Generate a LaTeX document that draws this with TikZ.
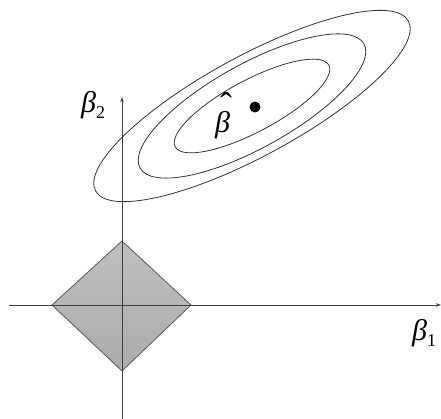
\documentclass[tikz,border=0pt]{standalone}
\usepackage{fontspec}
\setmainfont{Liberation Serif}
\usetikzlibrary{arrows.meta}
\tikzset{
  axisline/.style={draw=black!75, line width=0.8pt, -{Stealth[length=5pt,width=3.5pt]}},
  contour/.style={draw=black!80, line width=0.8pt},
  lbl/.style={inner sep=0pt, font=\fontsize{30}{34}\selectfont\itshape},
}
\newcommand{\hatb}{\makebox[0pt][l]{\hspace{5pt}\raisebox{15pt}{\fontsize{36}{36}\selectfont\upshape ˆ}}β}
\begin{document}
\begin{tikzpicture}[x=1pt,y=1pt]
\useasboundingbox (0,0) rectangle (441,419);
% diamond
\path[top color=black!25, bottom color=black!33, draw=black!65, line width=0.8pt]
  (122,178) coordinate (dt) -- (191,114) coordinate (dr) -- (122,48) coordinate (db) -- (52,114) coordinate (dl) -- cycle;
% axes
\coordinate (xs) at (9,114);
\coordinate (xe) at (441,114);
\coordinate (ys) at (122,0);
\coordinate (ye) at (122,322);
\draw[axisline] (xs) -- (xe);
\draw[axisline] (ys) -- (ye);
% contours
\coordinate (c) at (252,313);
\draw[contour, rotate around={28.5:(c)}] (c) ellipse (178 and 50);
\draw[contour, rotate around={29:(c)}] (c) ellipse (128 and 42);
\draw[contour, rotate around={28:(c)}] (c) ellipse (87 and 26);
% estimate
\fill (255,312) circle (5.5);
\node[lbl, anchor=base west] (bh) at (215,286) {\hatb};
\node[lbl, anchor=base west] (b2) at (81,306) {β\raisebox{-6pt}{\fontsize{18}{18}\selectfont\upshape 2}};
\node[lbl, anchor=base west] (b1) at (412,78) {β\raisebox{-6pt}{\fontsize{18}{18}\selectfont\upshape 1}};
\end{tikzpicture}
\end{document}
